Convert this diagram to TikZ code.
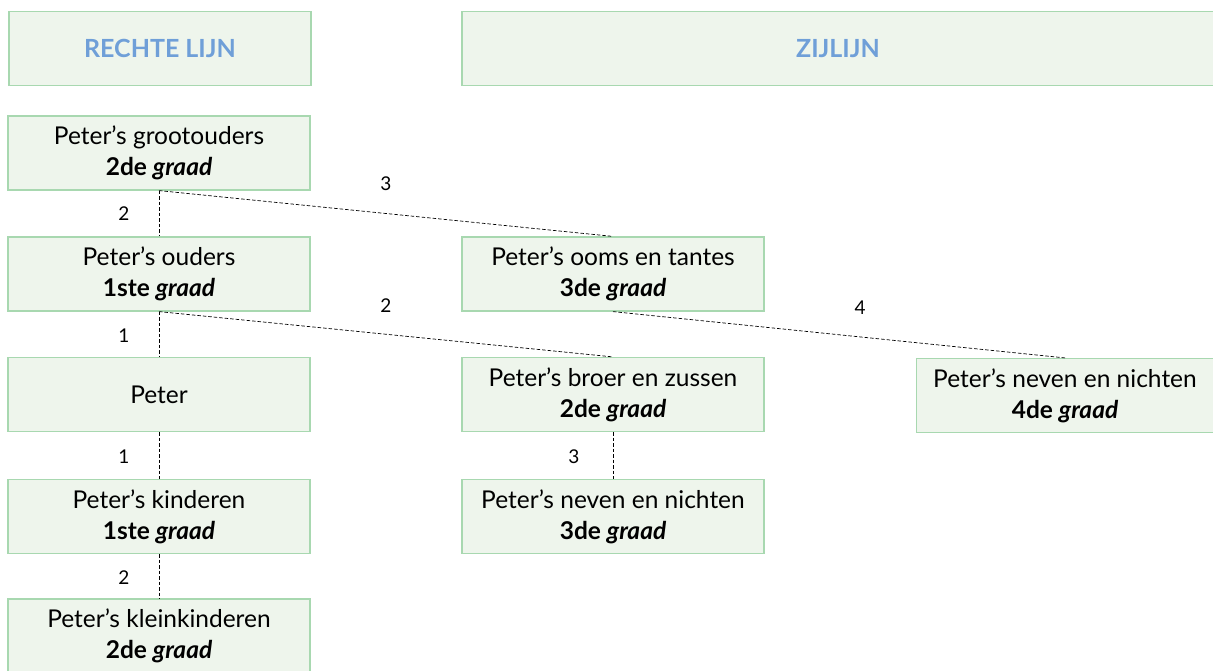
\documentclass[tikz,border=0pt]{standalone}
\usepackage{fontspec}
\setmainfont{Lato}
\definecolor{boxfill}{HTML}{EEF5EC}
\definecolor{boxline}{HTML}{A8D8B0}
\definecolor{headblue}{HTML}{6F9FD8}
\begin{document}
\begin{tikzpicture}[x=1pt,y=-1pt,
  box/.style={draw=boxline,fill=boxfill,line width=1.2pt,minimum width=302pt,minimum height=74pt,inner sep=0pt,align=center,font=\fontsize{24.5}{31}\selectfont},
  head/.style={box,text=headblue,font=\fontsize{25}{28}\selectfont\bfseries},
  link/.style={draw=black,line width=0.7pt,dash pattern=on 3.5pt off 2pt},
  num/.style={font=\fontsize{19}{20}\selectfont,inner sep=0pt}]
\useasboundingbox (0,0) rectangle (1213,670);
\node[head] (h1) at (160,48.5) {RECHTE LIJN};
\node[head,minimum width=752pt] (h2) at (838,48.5) {ZIJLIJN};
\node[box] (gp) at (159,153) {Peter's grootouders\\\textbf{2de \textit{graad}}};
\node[box] (par) at (159,274) {Peter's ouders\\\textbf{1ste \textit{graad}}};
\node[box] (pe) at (159,394.5) {Peter};
\node[box] (ki) at (159,516.5) {Peter's kinderen\\\textbf{1ste \textit{graad}}};
\node[box] (kk) at (159,636) {Peter's kleinkinderen\\\textbf{2de \textit{graad}}};
\node[box] (oo) at (613,274) {Peter's ooms en tantes\\\textbf{3de \textit{graad}}};
\node[box] (br) at (613,394.5) {Peter's broer en zussen\\\textbf{2de \textit{graad}}};
\node[box] (nv3) at (613,516.5) {Peter's neven en nichten\\\textbf{3de \textit{graad}}};
\node[box,minimum width=297pt] (nv4) at (1065,395.5) {Peter's neven en nichten\\\textbf{4de \textit{graad}}};
\draw[link] (gp.south) -- (par.north);
\draw[link] (par.south) -- (pe.north);
\draw[link] (pe.south) -- (ki.north);
\draw[link] (ki.south) -- (kk.north);
\draw[link] (gp.south) -- (oo.north);
\draw[link] (par.south) -- (br.north);
\draw[link] (oo.south) -- (nv4.north);
\draw[link] (br.south) -- (nv3.north);
\node[num] (l1) at (124,214) {2};
\node[num] (l2) at (124,336) {1};
\node[num] (l3) at (124,457) {1};
\node[num] (l4) at (124,578) {2};
\node[num] (l5) at (386,184) {3};
\node[num] (l6) at (386,306) {2};
\node[num] (l7) at (860,308) {4};
\node[num] (l8) at (574,457) {3};
\end{tikzpicture}
\end{document}
